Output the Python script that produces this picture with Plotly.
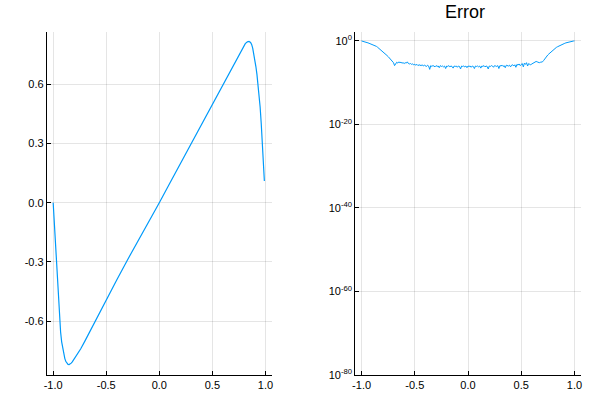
"""Two-panel chart: approximation (left) and its error on a log scale (right)."""

import numpy as np
import plotly.graph_objects as go
from plotly.subplots import make_subplots

LINE_COLOR = "#009AFA"
GRID_COLOR = "rgba(0,0,0,0.1)"
FONT = "Liberation Sans, Arial, sans-serif"

# left panel: approximated function
approx_x = [
    -1.00, -0.99, -0.98, -0.97, -0.96, -0.95, -0.94, -0.93, -0.92, -0.91,
    -0.90, -0.89, -0.88, -0.87, -0.86, -0.85, -0.84, -0.83, -0.82, -0.81,
    -0.80, -0.78, -0.76, -0.74, -0.70, -0.60, -0.50, -0.40, -0.30, -0.20,
    -0.10, 0.00, 0.10, 0.20, 0.30, 0.40, 0.50, 0.60, 0.70, 0.75,
    0.79, 0.81, 0.83, 0.845, 0.86, 0.87, 0.88, 0.89, 0.90, 0.91,
    0.92, 0.93, 0.94, 0.95, 0.96, 0.97, 0.98, 0.99,
]
approx_y = [
    0.000, -0.10, -0.20, -0.31, -0.415, -0.51, -0.59, -0.655, -0.705, -0.742,
    -0.77, -0.79, -0.805, -0.814, -0.819, -0.82, -0.818, -0.813, -0.806, -0.798,
    -0.79, -0.773, -0.757, -0.74, -0.70, -0.595, -0.49, -0.39, -0.29, -0.195,
    -0.097, 0.00, 0.10, 0.20, 0.30, 0.40, 0.50, 0.60, 0.697, 0.748,
    0.79, 0.806, 0.815, 0.817, 0.812, 0.802, 0.783, 0.755, 0.725, 0.69,
    0.65, 0.605, 0.55, 0.485, 0.405, 0.31, 0.21, 0.11,
]

# right panel: error, log10 values sampled on x = -1.00, -0.99, ..., 1.00
error_x = np.linspace(-1.0, 1.0, 201)
error_log10 = [
    0.00, -0.05, -0.10, -0.17, -0.25, -0.34, -0.45, -0.55, -0.65, -0.72,
    -0.80, -0.88, -0.96, -1.10, -1.30, -1.50, -1.70, -1.95, -2.20, -2.40,
    -2.60, -2.80, -3.00, -3.25, -3.50, -3.75, -4.00, -4.25, -4.50, -4.85,
    -5.20,
    -5.9, -5.3, -5.1, -5.3, -5.0, -5.2, -5.1, -5.3, -5.2, -5.4,
    -5.2, -5.3, -5.0, -5.4, -5.5, -5.4, -5.6, -5.5, -5.7, -5.6,
    -5.8, -5.6, -5.9, -5.7, -5.8, -5.9, -5.7, -6.0, -5.8, -5.9,
    -6.1, -5.8, -6.0, -6.8, -5.9, -6.1, -5.9, -6.0, -6.2, -5.9,
    -6.1, -6.0, -6.4, -5.9, -6.1, -6.0, -6.2, -6.0, -6.6, -6.0,
    -6.1, -5.9, -6.2, -6.0, -6.1, -6.5, -6.0, -6.1, -6.0, -6.3,
    -6.0, -6.1, -6.7, -6.0, -6.1, -6.0, -6.2, -6.0, -6.4, -6.0,
    -6.1, -6.0, -6.3, -6.0, -6.1, -6.6, -6.0, -6.1, -6.0, -6.2,
    -6.0, -6.5, -6.0, -6.1, -5.9, -6.2, -6.0, -6.1, -6.7, -6.0,
    -6.1, -5.9, -6.0, -6.3, -5.9, -6.0, -6.1, -5.9, -6.6, -5.9,
    -6.0, -5.8, -6.1, -5.9, -6.4, -5.8, -5.9, -6.0, -5.8, -6.2,
    -5.8, -5.7, -6.0, -5.7, -6.3, -5.6, -5.8, -5.5, -5.9, -5.5,
    -5.4, -6.2, -5.3, -5.6, -5.2, -6.0, -5.4, -5.6, -5.7, -5.5,
    -5.3, -5.1, -4.9, -4.9, -5.0, -5.1, -5.2, -5.1, -5.1, -5.0,
    -4.70, -4.30, -3.95, -3.60, -3.35, -3.10, -2.85, -2.60, -2.35, -2.10,
    -1.90, -1.70, -1.55, -1.40, -1.25, -1.10, -0.98, -0.85, -0.75, -0.65,
    -0.55, -0.45, -0.37, -0.30, -0.22, -0.15, -0.10, -0.05, -0.02, 0.00,
]
error_y = [10.0 ** v for v in error_log10]

left_ticks = [-0.6, -0.3, 0.0, 0.3, 0.6]
x_ticks = [-1.0, -0.5, 0.0, 0.5, 1.0]
error_exponents = [0, -20, -40, -60, -80]

fig = make_subplots(rows=1, cols=2, subplot_titles=("", "Error"))
fig.add_trace(go.Scatter(x=approx_x, y=approx_y, mode="lines",
                         line=dict(color=LINE_COLOR, width=1.2)), row=1, col=1)
fig.add_trace(go.Scatter(x=error_x, y=error_y, mode="lines",
                         line=dict(color=LINE_COLOR, width=1)), row=1, col=2)

axis_style = dict(
    showgrid=True, gridcolor=GRID_COLOR, gridwidth=1,
    showline=True, linecolor="black", linewidth=1,
    ticks="inside", ticklen=4, tickcolor="black",
    zeroline=False, mirror=False, automargin=False,
    tickfont=dict(family=FONT, size=11, color="black"),
)
fig.update_xaxes(**axis_style, range=[-1.06, 1.06], tickvals=x_ticks,
                 ticktext=[f"{t:.1f}" for t in x_ticks])
fig.update_xaxes(domain=[0.078, 0.453], row=1, col=1)
fig.update_xaxes(domain=[0.592, 0.968], row=1, col=2)
fig.update_yaxes(**axis_style)
fig.update_yaxes(domain=[0.0625, 0.92], range=[-0.873, 0.865], tickvals=left_ticks,
                 ticktext=[f"{t:.1f}" for t in left_ticks], row=1, col=1)
fig.update_yaxes(domain=[0.0625, 0.92], type="log", range=[-80, 2.15],
                 tickvals=[10.0 ** e for e in error_exponents],
                 ticktext=[f"10<sup>{e}</sup>" for e in error_exponents], row=1, col=2)

for ann in fig.layout.annotations:
    ann.font = dict(family=FONT, size=18, color="black")
    ann.y = 0.97
    ann.yanchor = "middle"

fig.update_layout(
    width=600, height=400, showlegend=False,
    margin=dict(l=0, r=0, t=0, b=0),
    paper_bgcolor="white", plot_bgcolor="white",
    font=dict(family=FONT),
)

# the page body has a default 8px margin; drop it so the figure sits at the origin
fig.write_html("out.html", config={"displayModeBar": False},
               post_script="document.body.style.margin = '0';")
